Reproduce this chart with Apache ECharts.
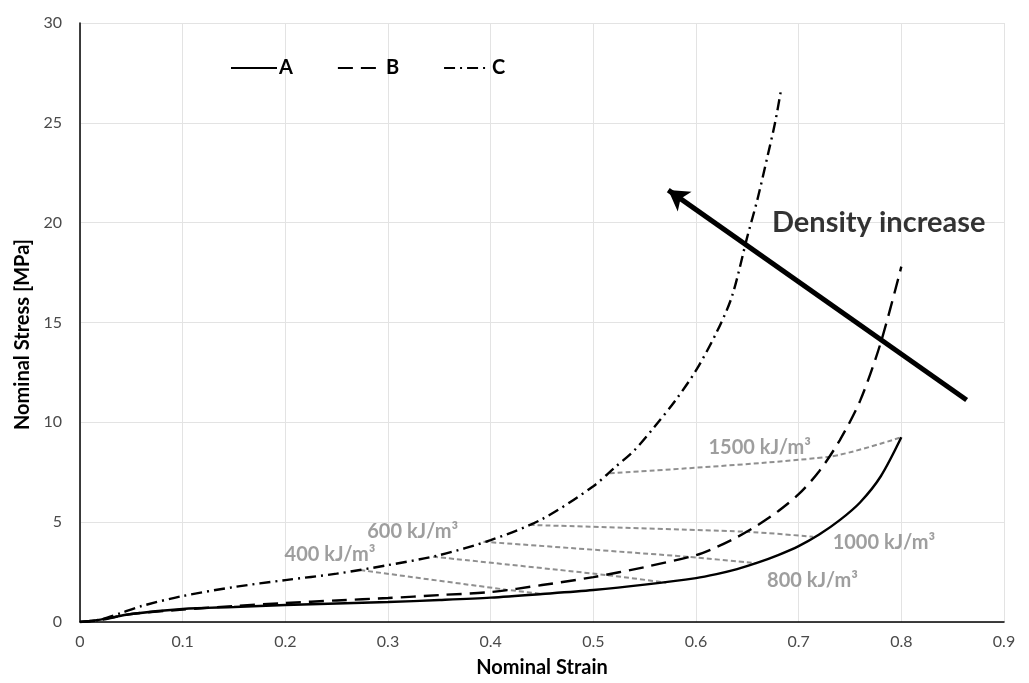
<!DOCTYPE html>
<html>
<head>
<meta charset="utf-8">
<script src="https://cdn.jsdelivr.net/npm/echarts@6/dist/echarts.min.js"></script>
<style>html,body{margin:0;padding:0;background:#fff}#c{width:1029px;height:683px}</style>
</head>
<body>
<div id="c"></div>
<script>
// ---- data ----
const seriesNames = ['A', 'B', 'C'];
const strainA = [0, 0.02, 0.05, 0.1, 0.15, 0.2, 0.25, 0.3, 0.35, 0.4, 0.45, 0.5, 0.55, 0.6, 0.62, 0.64, 0.66, 0.68, 0.7, 0.72, 0.74, 0.76, 0.78, 0.8];
const stressA = [0, 0.12, 0.4, 0.65, 0.75, 0.85, 0.93, 1.0, 1.1, 1.22, 1.4, 1.6, 1.87, 2.2, 2.4, 2.65, 2.97, 3.35, 3.8, 4.38, 5.1, 6.0, 7.3, 9.25];
const strainB = [0, 0.02, 0.05, 0.1, 0.15, 0.2, 0.25, 0.3, 0.35, 0.4, 0.45, 0.5, 0.55, 0.6, 0.62, 0.64, 0.66, 0.68, 0.7, 0.72, 0.74, 0.76, 0.78, 0.8];
const stressB = [0, 0.1, 0.4, 0.62, 0.8, 0.95, 1.08, 1.2, 1.35, 1.5, 1.85, 2.25, 2.75, 3.35, 3.75, 4.25, 4.85, 5.55, 6.4, 7.55, 9.1, 11.1, 14.0, 17.8];
const strainC = [0, 0.02, 0.04, 0.06, 0.1, 0.15, 0.2, 0.25, 0.3, 0.35, 0.4, 0.45, 0.5, 0.52, 0.54, 0.56, 0.58, 0.6, 0.62, 0.635, 0.65, 0.66, 0.67, 0.677, 0.683];
const stressC = [0, 0.12, 0.45, 0.8, 1.3, 1.75, 2.1, 2.42, 2.85, 3.35, 4.1, 5.15, 6.8, 7.7, 8.6, 9.8, 11.1, 12.6, 14.5, 16.3, 19.3, 21.2, 23.4, 25.0, 26.7];

// energy contour lines (points on C, B, A)
const energyLabels = ['400 kJ/m³', '600 kJ/m³', '800 kJ/m³', '1000 kJ/m³', '1500 kJ/m³'];
const energyStrain = [[0.273, 0.415, 0.448], [0.344, 0.513, 0.571], [0.393, 0.591, 0.659], [0.438, 0.649, 0.714], [0.516, 0.73, 0.8]];
const energyStress = [[2.6, 1.62, 1.42], [3.27, 2.35, 1.97], [4.02, 3.27, 2.94], [4.86, 4.52, 4.27], [7.45, 8.28, 9.25]];
const energyLabelX = [0.2435, 0.324, 0.7135, 0.783, 0.662];
const energyLabelY = [3.36, 4.51, 2.10, 3.96, 8.76];

const arrowText = 'Density increase';
const arrowFrom = [0.8636, 11.12];
const arrowTo = [0.573, 21.63];
const arrowTextPos = [0.778, 20.0];

const xTicks = [0, 0.1, 0.2, 0.3, 0.4, 0.5, 0.6, 0.7, 0.8, 0.9];
const yTicks = [0, 5, 10, 15, 20, 25, 30];

// ---- build ----
const FONT = 'Lato';
const zip = (xs, ys) => xs.map((x, i) => [x, ys[i]]);
const dashTypes = ['solid', [15, 8], [11, 5, 2, 5]];
const curveData = [zip(strainA, stressA), zip(strainB, stressB), zip(strainC, stressC)];

const series = [];
energyStrain.forEach((xs, i) => {
  series.push({
    type: 'line', data: zip(xs, energyStress[i]), smooth: 0.25, symbol: 'none',
    lineStyle: { color: '#8f8f8f', width: 2, type: [5, 3] }, z: 1, silent: true
  });
});
seriesNames.forEach((n, i) => {
  series.push({
    name: n, type: 'line', data: curveData[i], smooth: 0.3, symbol: 'none', showSymbol: false,
    lineStyle: { color: '#000', width: 2.4, type: dashTypes[i] },
    itemStyle: { color: '#000' }, z: 3
  });
});
series.push({
  type: 'scatter', symbolSize: 1, itemStyle: { color: 'rgba(0,0,0,0)' }, silent: true,
  data: energyLabels.map((t, i) => ({ name: t, value: [energyLabelX[i], energyLabelY[i]] })),
  label: {
    show: true, position: 'inside', formatter: p => p.name,
    fontFamily: FONT, fontWeight: 'bold', fontSize: 20, color: '#868686'
  }
});
series.push({
  type: 'scatter', symbolSize: 1, itemStyle: { color: 'rgba(0,0,0,0)' }, silent: true,
  data: [{ name: arrowText, value: arrowTextPos }],
  label: {
    show: true, position: 'inside', formatter: p => p.name,
    fontFamily: FONT, fontWeight: 'bold', fontSize: 29, color: '#000'
  },
  markLine: {
    silent: true, symbol: ['none', 'arrow'], symbolSize: [18, 20],
    label: { show: false },
    lineStyle: { color: '#000', width: 5, type: 'solid' },
    data: [[{ coord: arrowFrom }, { coord: arrowTo }]]
  }
});

const chart = echarts.init(document.getElementById('c'));
chart.setOption({
  animation: false,
  backgroundColor: '#fff',
  grid: { left: 80, right: 25, top: 23, bottom: 61, containLabel: false },
  legend: {
    data: seriesNames, left: 225, top: 53, itemWidth: 46, itemHeight: 14, itemGap: 44,
    itemStyle: { opacity: 0 },
    textStyle: { fontFamily: FONT, fontWeight: 'bold', fontSize: 20, color: '#000', padding: [0, 0, 0, -3] }
  },
  xAxis: {
    type: 'value', min: xTicks[0], max: xTicks[xTicks.length - 1], interval: 0.1,
    name: 'Nominal Strain', nameLocation: 'middle', nameGap: 36,
    nameTextStyle: { fontFamily: FONT, fontWeight: 'bold', fontSize: 20, color: '#000' },
    axisLine: { lineStyle: { color: '#000', width: 1.5 } },
    axisTick: { show: false },
    axisLabel: { fontFamily: FONT, fontSize: 16, color: '#4a4a4a', margin: 12, formatter: v => String(+v.toFixed(1)) },
    splitLine: { show: true, lineStyle: { color: '#e3e3e3', width: 1 } }
  },
  yAxis: {
    type: 'value', min: yTicks[0], max: yTicks[yTicks.length - 1], interval: 5,
    name: 'Nominal Stress [MPa]', nameLocation: 'middle', nameGap: 38,
    nameTextStyle: { fontFamily: FONT, fontWeight: 'bold', fontSize: 20, color: '#000', padding: [0, 24, 0, 0] },
    axisLine: { show: true, lineStyle: { color: '#000', width: 1.5 } },
    axisTick: { show: false },
    axisLabel: { fontFamily: FONT, fontSize: 16, color: '#4a4a4a', margin: 18 },
    splitLine: { show: true, lineStyle: { color: '#e3e3e3', width: 1 } }
  },
  series: series
});
</script>
</body>
</html>
